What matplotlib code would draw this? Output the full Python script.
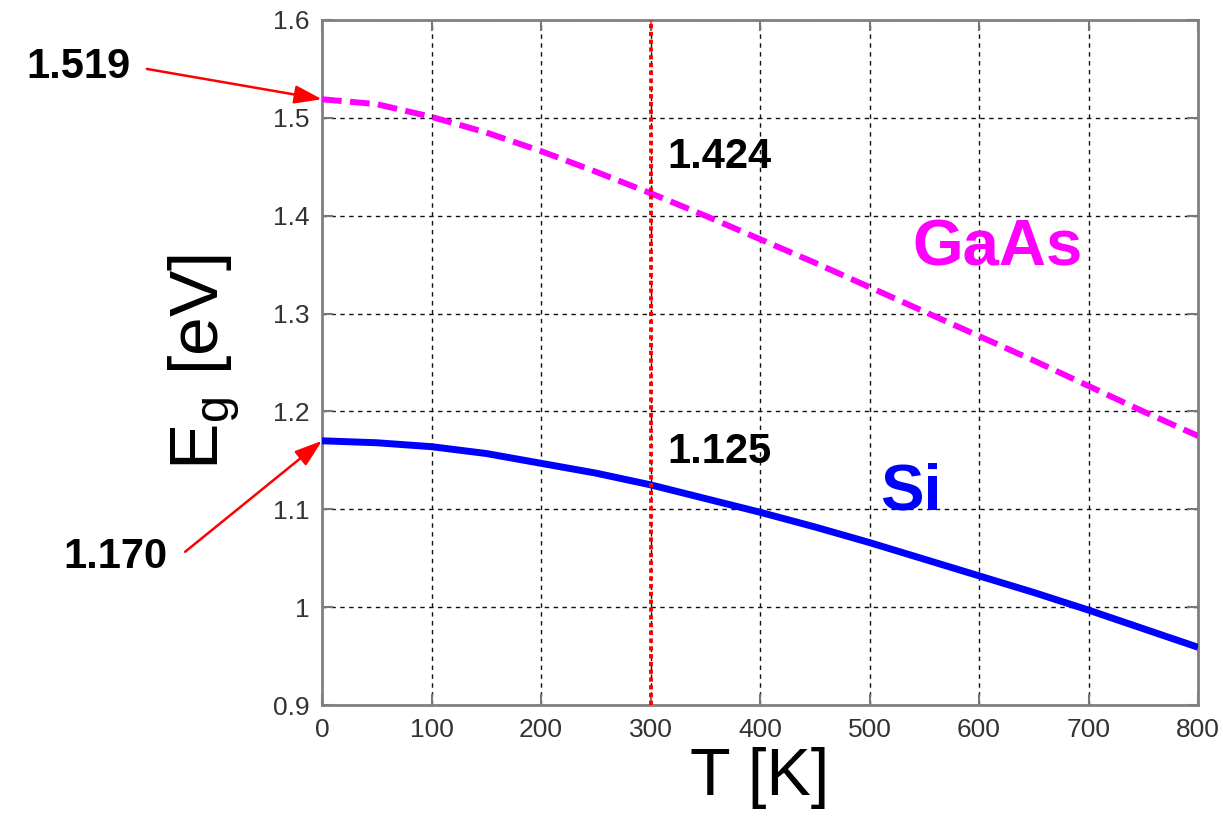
import matplotlib.pyplot as plt

# band gap vs temperature, every 50 K
temps = [0, 50, 100, 150, 200, 250, 300, 350, 400, 450, 500, 550, 600, 650, 700, 750, 800]
eg_gaas = [1.519, 1.514, 1.501, 1.485, 1.466, 1.445, 1.423, 1.400, 1.376, 1.352, 1.327,
           1.302, 1.277, 1.252, 1.226, 1.200, 1.175]
eg_si = [1.170, 1.168, 1.164, 1.157, 1.147, 1.137, 1.125, 1.111, 1.097, 1.082, 1.066,
         1.049, 1.032, 1.015, 0.997, 0.978, 0.959]

t_room = 300
eg_gaas_room = 1.424
eg_si_room = 1.125

xticks = [0, 100, 200, 300, 400, 500, 600, 700, 800]
yticks = [0.9, 1.0, 1.1, 1.2, 1.3, 1.4, 1.5, 1.6]
yticklabels = ['0.9', '1', '1.1', '1.2', '1.3', '1.4', '1.5', '1.6']

regular = ['Liberation Sans', 'DejaVu Sans']
bold = ['Liberation Sans', 'DejaVu Sans']

plt.rcParams['mathtext.fontset'] = 'custom'
plt.rcParams['mathtext.rm'] = 'Liberation Sans'

fig = plt.figure(figsize=(12.23, 8.16), dpi=100)
ax = fig.add_axes([0.2633, 0.136, 0.7163, 0.8395])

ax.plot(temps, eg_si, color='#0000ff', lw=5, solid_capstyle='butt', zorder=3)
ax.plot(temps, eg_gaas, color='#ff00ff', lw=4.3, dashes=(3.3, 1.4), zorder=3)
ax.axvline(t_room, color='red', lw=2.8, linestyle=(0, (1.1, 0.9)), zorder=4)

ax.set_xlim(0, 800)
ax.set_ylim(0.9, 1.6)
ax.set_xticks(xticks)
ax.set_yticks(yticks)
ax.set_yticklabels(yticklabels)
ax.grid(True, color='#111111', lw=1.0, linestyle=(0, (3.2, 3.2)))
ax.tick_params(direction='in', length=8, width=1.5, color='#777777',
               top=True, right=True, labelsize=19, labelcolor='#333333', pad=9)
for lab in ax.get_xticklabels() + ax.get_yticklabels():
    lab.set_family(regular)
for sp in ax.spines.values():
    sp.set_color('#808080')
    sp.set_linewidth(2)

ax.set_xlabel('T [K]', fontsize=48, family=regular, labelpad=4)
ax.set_ylabel(r'E$_\mathrm{g}$ [eV]', fontsize=50, family=regular, labelpad=22)

# value labels
ax.text(315, 1.460, '%.3f' % eg_gaas_room, fontsize=30, fontweight='bold', family=bold,
        va='center', ha='left')
ax.text(315, 1.159, '%.3f' % eg_si_room, fontsize=30, fontweight='bold', family=bold,
        va='center', ha='left')
ax.text(539, 1.367, 'GaAs', fontsize=47, fontweight='bold', family=bold, color='#ff00ff',
        va='center', ha='left')
ax.text(510, 1.117, 'Si', fontsize=47, fontweight='bold', family=bold, color='#0000ff',
        va='center', ha='left')

arrow = dict(arrowstyle='-|>,head_length=0.6,head_width=0.2', color='red', lw=1.8,
             mutation_scale=28, shrinkA=0, shrinkB=0)
ax.text(-270, 1.5515, '%.3f' % eg_gaas[0], fontsize=30, fontweight='bold', family=bold,
        va='center', ha='left')
ax.annotate('', xy=(temps[0], eg_gaas[0]), xytext=(-160, 1.550), arrowprops=arrow,
            annotation_clip=False)
ax.text(-236, 1.0515, '%.3f' % eg_si[0], fontsize=30, fontweight='bold', family=bold,
        va='center', ha='left')
ax.annotate('', xy=(temps[0], eg_si[0]), xytext=(-125, 1.0566), arrowprops=arrow,
            annotation_clip=False)

fig.savefig('out.png', dpi=100)
